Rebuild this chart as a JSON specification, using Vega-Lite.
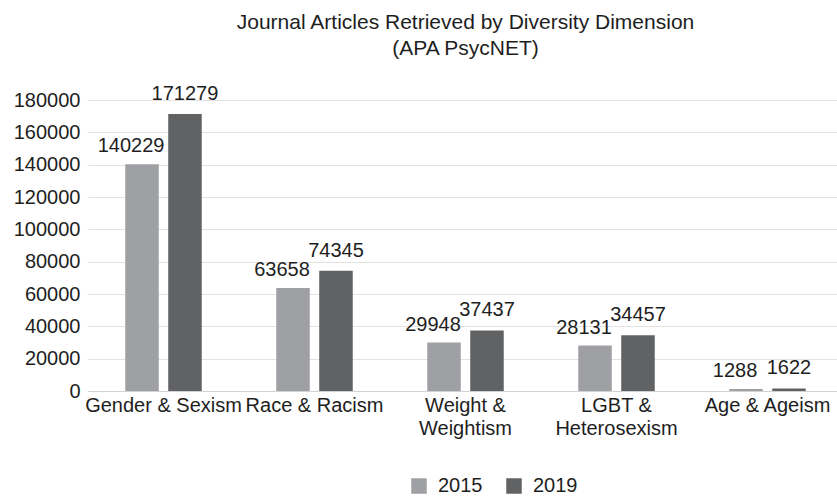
{
  "$schema": "https://vega.github.io/schema/vega-lite/v6.json",
  "autosize": "none",
  "padding": {"left": 88, "top": 100, "right": 0, "bottom": 106},
  "width": 755,
  "height": 291,
  "background": "white",
  "config": {
    "font": "Liberation Sans",
    "view": {"stroke": null},
    "axis": {"labelColor": "#1e1e1e", "labelFontSize": 20, "ticks": false, "title": null}
  },
  "title": {
    "text": ["Journal Articles Retrieved by Diversity Dimension", "(APA PsycNET)"],
    "fontSize": 21,
    "fontWeight": "normal",
    "color": "#1e1e1e",
    "lineHeight": 26,
    "anchor": "middle",
    "offset": 25
  },
  "data": {
    "values": [
      {"dimension": "Gender & Sexism", "year": "2015", "articles": 140229},
      {"dimension": "Gender & Sexism", "year": "2019", "articles": 171279},
      {"dimension": "Race & Racism", "year": "2015", "articles": 63658},
      {"dimension": "Race & Racism", "year": "2019", "articles": 74345},
      {"dimension": "Weight &\nWeightism", "year": "2015", "articles": 29948},
      {"dimension": "Weight &\nWeightism", "year": "2019", "articles": 37437},
      {"dimension": "LGBT &\nHeterosexism", "year": "2015", "articles": 28131},
      {"dimension": "LGBT &\nHeterosexism", "year": "2019", "articles": 34457},
      {"dimension": "Age & Ageism", "year": "2015", "articles": 1288},
      {"dimension": "Age & Ageism", "year": "2019", "articles": 1622}
    ]
  },
  "encoding": {
    "x": {
      "field": "dimension",
      "type": "nominal",
      "sort": null,
      "scale": {"paddingInner": 0.4934, "paddingOuter": 0.2467},
      "axis": {
        "labelAngle": 0,
        "labelPadding": 4,
        "labelLineHeight": 23,
        "labelExpr": "split(datum.label, '\\n')",
        "domainColor": "#d2d2d2",
        "domainWidth": 1,
        "grid": false
      }
    },
    "xOffset": {
      "field": "year",
      "type": "nominal",
      "scale": {"paddingInner": 0.22, "paddingOuter": 0}
    },
    "y": {
      "field": "articles",
      "type": "quantitative",
      "scale": {"domain": [0, 180000], "nice": false},
      "axis": {
        "values": [0, 20000, 40000, 60000, 80000, 100000, 120000, 140000, 160000, 180000],
        "format": "d",
        "domain": false,
        "grid": true,
        "gridColor": "#e2e2e2",
        "gridWidth": 1,
        "labelPadding": 8
      }
    }
  },
  "layer": [
    {
      "mark": {"type": "bar"},
      "encoding": {
        "color": {
          "field": "year",
          "type": "nominal",
          "scale": {"domain": ["2015", "2019"], "range": ["#9fa0a3", "#616264"]},
          "legend": {
            "title": null,
            "orient": "none",
            "direction": "horizontal",
            "legendX": 321,
            "legendY": 376,
            "symbolType": "square",
            "symbolSize": 240,
            "symbolStrokeWidth": 0,
            "symbolOpacity": 1,
            "labelFontSize": 20,
            "labelColor": "#1e1e1e",
            "labelOffset": 9,
            "columnPadding": 21,
            "padding": 0
          }
        }
      }
    },
    {
      "transform": [{"filter": "datum.year == '2015'"}],
      "mark": {"type": "text", "fontSize": 20, "color": "#1e1e1e", "baseline": "alphabetic", "dy": -12, "dx": -11},
      "encoding": {"text": {"field": "articles", "type": "quantitative", "format": "d"}}
    },
    {
      "transform": [{"filter": "datum.year == '2019'"}],
      "mark": {"type": "text", "fontSize": 20, "color": "#1e1e1e", "baseline": "alphabetic", "dy": -14},
      "encoding": {"text": {"field": "articles", "type": "quantitative", "format": "d"}}
    }
  ]
}
